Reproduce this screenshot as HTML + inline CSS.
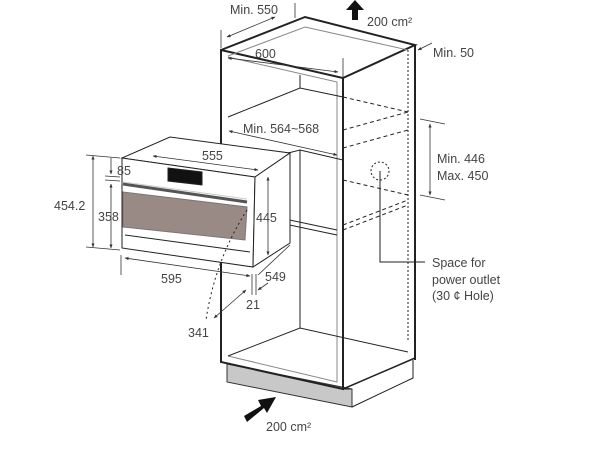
<!DOCTYPE html>
<html><head><style>
html,body{margin:0;padding:0;background:#fff;}
svg{display:block;}
text{font-family:"Liberation Sans",sans-serif;font-size:12.5px;fill:#444;}
</style></head><body>
<svg width="600" height="450" viewBox="0 0 600 450" xmlns="http://www.w3.org/2000/svg">
<defs>
<marker id="a" viewBox="0 0 10 10" refX="9" refY="5" markerWidth="5" markerHeight="5" orient="auto-start-reverse"><path d="M0,1 L10,5 L0,9 z" fill="#333"/></marker>
</defs>
<g stroke="#222" fill="none" stroke-width="1">
<!-- plinth -->
<polygon points="227,364 227,382 352,407 352,389" fill="#c8c8c8" stroke="#333"/>
<polyline points="352,407 413,378 413,360"/>
<line x1="343" y1="389" x2="352" y2="389"/>
<!-- cabinet front frame -->
<polygon points="221,50 343,78 343,389 221,362" stroke-width="2" fill="none"/>
<polyline points="228,57 337,82 337,382 228,356" stroke="#888"/>
<!-- top -->
<polyline points="221,50 305,17 415,45 343,78" stroke-width="2"/>
<polyline points="228,56 305,27 408,50" stroke="#888"/>
<!-- right side -->
<line x1="415" y1="45" x2="415" y2="360" stroke-width="2"/>
<line x1="343" y1="389" x2="415" y2="358" stroke-width="1.5"/>
<line x1="408" y1="50" x2="408" y2="340" stroke-dasharray="2,2"/>
<!-- back inner -->
<line x1="300" y1="75" x2="300" y2="88"/>
<line x1="300" y1="150" x2="300" y2="328"/>
<polyline points="228,356 300,328 408,352"/>
<polyline points="228,117 300,88 343,97"/>
<polyline points="228,168 300,150 343,160"/>
<!-- shelves dashed -->
<g stroke-dasharray="4,3">
<line x1="343" y1="97" x2="408" y2="112"/>
<line x1="343" y1="130" x2="408" y2="112"/>
<line x1="343" y1="148" x2="408" y2="130"/>
<line x1="343" y1="180" x2="408" y2="195"/>
<line x1="343" y1="225" x2="408" y2="200"/>
<line x1="343" y1="230" x2="408" y2="205"/>
</g>
<polyline points="228,207 337,230"/>
<polyline points="228,212 337,235"/>
<!-- power outlet -->
<circle cx="380" cy="171" r="9" stroke-dasharray="2,2"/>
<polyline points="380,171 380,262 425,262"/>
<!-- oven -->
<polygon points="122,158 170,137 290,153 255,177" fill="#fff"/>
<polygon points="122,158 255,177 253,267 122,248" fill="#fff"/>
<polygon points="255,177 290,153 290,243 253,267" fill="#fff"/>
<polygon points="123,192 247,207 245,240 123,227" fill="#9a8a86" stroke="#777"/>
<line x1="123" y1="184" x2="247" y2="202" stroke-width="3" stroke="#555"/>
<line x1="123" y1="182" x2="247" y2="199" stroke="#ccc"/>
<polygon points="168,168 202,172 202,185 168,181" fill="#111"/>
<line x1="125" y1="235" x2="250" y2="252"/>
<!-- door arc -->
<path d="M247,210 Q215,260 206,320" stroke-dasharray="2,3"/>
<!-- dimension lines -->
<g stroke="#333" stroke-width="0.8">
<line x1="227" y1="37" x2="275" y2="17" marker-start="url(#a)" marker-end="url(#a)"/>
<line x1="221" y1="30" x2="221" y2="48"/><line x1="295" y1="3" x2="295" y2="18"/>
<line x1="228" y1="58" x2="338" y2="72" marker-start="url(#a)" marker-end="url(#a)"/>
<line x1="343" y1="58" x2="343" y2="78"/>
<line x1="418" y1="50" x2="432" y2="43" marker-start="url(#a)"/>
<line x1="229" y1="131" x2="337" y2="155" marker-start="url(#a)" marker-end="url(#a)"/>
<line x1="153" y1="156" x2="258" y2="170" marker-start="url(#a)" marker-end="url(#a)"/>
<line x1="268" y1="177" x2="268" y2="255" marker-start="url(#a)" marker-end="url(#a)"/>
<line x1="420" y1="119" x2="445" y2="124"/><line x1="420" y1="195" x2="445" y2="200"/>
<line x1="430" y1="124" x2="430" y2="195" marker-start="url(#a)" marker-end="url(#a)"/>
<line x1="93" y1="156" x2="93" y2="247" marker-start="url(#a)" marker-end="url(#a)"/>
<line x1="86" y1="155" x2="120" y2="158"/><line x1="86" y1="247" x2="120" y2="250"/>
<line x1="111" y1="158" x2="111" y2="174" marker-end="url(#a)"/>
<line x1="105" y1="176" x2="120" y2="177"/><line x1="105" y1="180" x2="120" y2="181"/>
<line x1="111" y1="184" x2="111" y2="248" marker-start="url(#a)" marker-end="url(#a)"/>
<line x1="121" y1="255" x2="121" y2="275"/>
<line x1="125" y1="258" x2="250" y2="276" marker-start="url(#a)" marker-end="url(#a)"/>
<line x1="252" y1="274" x2="252" y2="295"/><line x1="256" y1="274" x2="256" y2="295"/>
<line x1="290" y1="245" x2="258" y2="275"/>
<line x1="268" y1="283" x2="258" y2="290" marker-end="url(#a)"/>
<line x1="246" y1="290" x2="214" y2="318" marker-end="url(#a)" marker-start="url(#a)"/>
</g>
</g>
<!-- airflow arrows -->
<polygon points="352,20 352,10 346,10 355,0 364,10 358,10 358,20" fill="#111"/>
<polygon points="244,416 261,406 258,400 276,397 267,413 264,408 247,422" fill="#111"/>
<text x="230" y="14">Min. 550</text>
<text x="367" y="26">200 cm²</text>
<text x="255" y="58">600</text>
<text x="433" y="57">Min. 50</text>
<text x="243" y="133">Min. 564~568</text>
<text x="202" y="160">555</text>
<text x="117" y="175">85</text>
<text x="54" y="210">454.2</text>
<text x="98" y="221">358</text>
<text x="256" y="222">445</text>
<text x="437" y="163">Min. 446</text>
<text x="437" y="180">Max. 450</text>
<text x="432" y="267">Space for</text>
<text x="432" y="284">power outlet</text>
<text x="432" y="300">(30 ¢ Hole)</text>
<text x="161" y="283">595</text>
<text x="265" y="281">549</text>
<text x="246" y="309">21</text>
<text x="188" y="337">341</text>
<text x="266" y="431">200 cm²</text>
</svg>
</body></html>
